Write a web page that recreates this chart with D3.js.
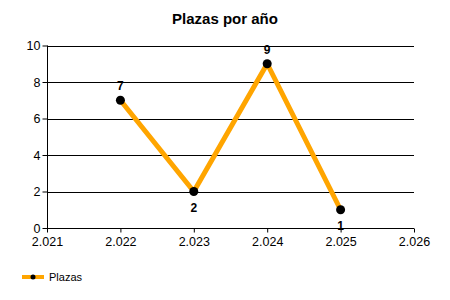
<!DOCTYPE html>
<html>
<head>
<meta charset="utf-8">
<script src="https://cdn.jsdelivr.net/npm/d3@7"></script>
<style>
  body { margin: 0; background: #fff; }
  text { font-family: "Liberation Sans", Arial, sans-serif; }
</style>
</head>
<body>
<div id="chart"></div>
<script>
// data
const years = [2022, 2023, 2024, 2025]
const plazas = [7, 2, 9, 1]
const xTicks = [2021, 2022, 2023, 2024, 2025, 2026]
const yTicks = [0, 2, 4, 6, 8, 10]
const seriesName = "Plazas"
const title = "Plazas por año"

const width = 450
const height = 300
const plotLeft = 47
const plotRight = 414
const plotTop = 45.5
const plotBottom = 228

const esLocale = d3.formatLocale({ decimal: ",", thousands: ".", grouping: [3], currency: ["", "€"] })
const yearFormat = esLocale.format(",d")

const svg = d3.select('#chart')
  .append('svg')
  .attr('width', width)
  .attr('height', height)

const xScale = d3.scaleLinear().domain([2021, 2026]).range([plotLeft, plotRight])
const yScale = d3.scaleLinear().domain([0, 10]).range([plotBottom, plotTop])

// title
svg.append('text')
  .attr('x', 225)
  .attr('y', 24)
  .attr('text-anchor', 'middle')
  .style('font-size', '15px')
  .style('font-weight', 'bold')
  .text(title)

// gridlines
svg.append('g')
  .selectAll('line')
  .data(yTicks.filter(d => d > 0))
  .enter()
  .append('line')
  .attr('x1', plotLeft)
  .attr('x2', plotRight)
  .attr('y1', d => Math.round(yScale(d)) + 0.5)
  .attr('y2', d => Math.round(yScale(d)) + 0.5)
  .attr('stroke', '#000')

// axes
const yAxis = d3.axisLeft(yScale).tickValues(yTicks).tickSize(5).tickPadding(2)
const xAxis = d3.axisBottom(xScale).tickValues(xTicks).tickFormat(yearFormat).tickSize(4).tickPadding(5)

const gy = svg.append('g')
  .attr('transform', 'translate(' + (plotLeft + 0.5) + ',0)')
  .call(yAxis)
const gx = svg.append('g')
  .attr('transform', 'translate(0,' + (Math.round(plotBottom) + 0.5) + ')')
  .call(xAxis)

;[gx, gy].forEach(g => {
  g.select('.domain').attr('stroke', '#000')
  g.selectAll('.tick line').attr('stroke', '#000')
  g.selectAll('.tick text')
    .attr('fill', '#000')
    .style('font-size', '12.5px')
    .style('font-family', '"Liberation Sans", Arial, sans-serif')
})
gx.select('.domain').attr('d', 'M' + plotLeft + ',0H' + plotRight)
gy.select('.domain').attr('d', 'M0,' + plotTop + 'V' + plotBottom)

// series line
const line = d3.line()
  .x((d, i) => xScale(years[i]))
  .y(d => yScale(d))

svg.append('path')
  .datum(plazas)
  .attr('d', line)
  .attr('fill', 'none')
  .attr('stroke', '#FFA500')
  .attr('stroke-width', 5)
  .attr('stroke-linejoin', 'round')

// markers
svg.append('g')
  .selectAll('circle')
  .data(plazas)
  .enter()
  .append('circle')
  .attr('cx', (d, i) => xScale(years[i]))
  .attr('cy', d => yScale(d))
  .attr('r', 4.5)
  .attr('fill', '#000')

// value labels: above when the point is a peak, below when a valley
svg.append('g')
  .selectAll('text')
  .data(plazas)
  .enter()
  .append('text')
  .attr('x', (d, i) => xScale(years[i]))
  .attr('y', (d, i) => {
    const up = (i % 2 === 0)
    return yScale(d) + (up ? -10 : 20)
  })
  .attr('text-anchor', 'middle')
  .style('font-size', '12px')
  .style('font-weight', 'bold')
  .text(d => d)

// legend
const legend = svg.append('g').attr('transform', 'translate(22,277)')
legend.append('line')
  .attr('x1', 0).attr('x2', 22)
  .attr('stroke', '#FFA500')
  .attr('stroke-width', 4)
legend.append('circle')
  .attr('cx', 11).attr('r', 2.5)
  .attr('fill', '#000')
legend.append('text')
  .attr('x', 27)
  .attr('y', 4)
  .style('font-size', '11px')
  .text(seriesName)
</script>
</body>
</html>
